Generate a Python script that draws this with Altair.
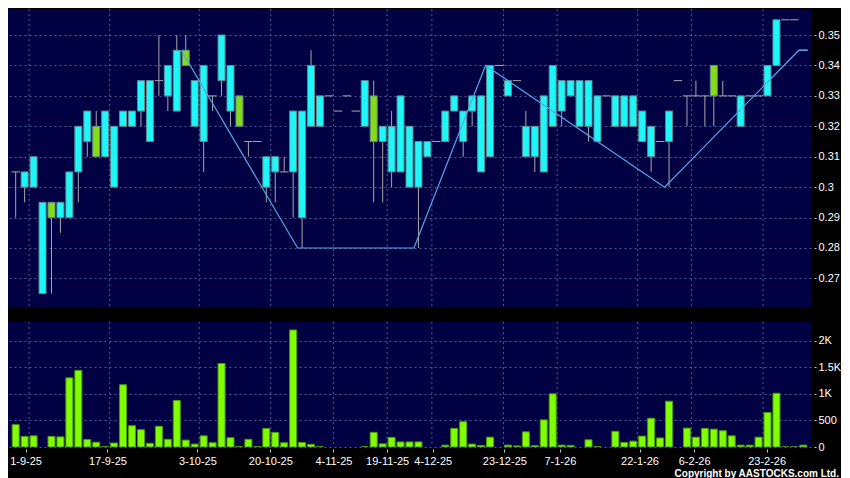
import json
import altair as alt
import pandas as pd

# ---------------- data ----------------
slot = list(range(89))
open_ = [0.305, 0.300, 0.300, 0.265, 0.295, 0.290, 0.290, 0.305, 0.315, 0.320,
         0.310, 0.300, 0.320, 0.320, 0.325, 0.315, 0.335, 0.330, 0.325, 0.345,
         0.320, 0.315, 0.330, 0.335, 0.325, 0.330, 0.315, 0.315, 0.300, 0.305,
         0.305, 0.305, 0.290, 0.320, 0.320, 0.330, 0.325, 0.330, 0.325, 0.320,
         0.330, 0.315, 0.305, 0.305, 0.300, 0.300, 0.310, 0.315, 0.315, 0.325,
         0.315, 0.325, 0.305, 0.310, 0.340, 0.330, 0.335, 0.310, 0.310, 0.305,
         0.320, 0.325, 0.330, 0.320, 0.320, 0.315, 0.330, 0.320, 0.320, 0.320,
         0.315, 0.310, 0.315, 0.315, 0.335, 0.330, 0.330, 0.330, 0.340, 0.330,
         0.330, 0.320, 0.330, 0.330, 0.330, 0.340, 0.355, 0.355, 0.345]
high = [0.305, 0.305, 0.310, 0.295, 0.295, 0.295, 0.305, 0.320, 0.325, 0.325,
        0.325, 0.320, 0.325, 0.325, 0.335, 0.335, 0.350, 0.340, 0.350, 0.350,
        0.335, 0.340, 0.330, 0.350, 0.340, 0.330, 0.315, 0.315, 0.310, 0.310,
        0.310, 0.325, 0.325, 0.345, 0.330, 0.330, 0.325, 0.330, 0.325, 0.335,
        0.335, 0.320, 0.325, 0.330, 0.320, 0.315, 0.315, 0.315, 0.325, 0.330,
        0.325, 0.330, 0.330, 0.340, 0.340, 0.335, 0.335, 0.325, 0.320, 0.330,
        0.340, 0.335, 0.335, 0.335, 0.335, 0.330, 0.330, 0.330, 0.330, 0.330,
        0.325, 0.320, 0.315, 0.325, 0.335, 0.330, 0.335, 0.330, 0.340, 0.335,
        0.330, 0.330, 0.330, 0.330, 0.340, 0.355, 0.355, 0.355, 0.345]
low = [0.290, 0.295, 0.300, 0.265, 0.265, 0.285, 0.290, 0.295, 0.310, 0.310,
       0.310, 0.300, 0.320, 0.320, 0.320, 0.315, 0.330, 0.325, 0.325, 0.340,
       0.320, 0.305, 0.325, 0.330, 0.320, 0.320, 0.310, 0.315, 0.295, 0.295,
       0.305, 0.290, 0.280, 0.320, 0.320, 0.330, 0.325, 0.330, 0.325, 0.320,
       0.295, 0.295, 0.300, 0.305, 0.300, 0.280, 0.310, 0.315, 0.315, 0.325,
       0.310, 0.320, 0.305, 0.310, 0.340, 0.330, 0.335, 0.310, 0.305, 0.305,
       0.320, 0.320, 0.330, 0.320, 0.315, 0.315, 0.330, 0.320, 0.320, 0.320,
       0.315, 0.305, 0.315, 0.300, 0.335, 0.320, 0.330, 0.320, 0.320, 0.330,
       0.330, 0.320, 0.330, 0.330, 0.330, 0.340, 0.355, 0.355, 0.345]
close = [0.305, 0.305, 0.310, 0.295, 0.290, 0.295, 0.305, 0.320, 0.325, 0.310,
         0.325, 0.320, 0.325, 0.325, 0.335, 0.335, 0.335, 0.340, 0.345, 0.340,
         0.335, 0.340, 0.330, 0.350, 0.340, 0.320, 0.315, 0.315, 0.310, 0.310,
         0.305, 0.325, 0.325, 0.340, 0.330, 0.330, 0.325, 0.330, 0.325, 0.335,
         0.315, 0.320, 0.320, 0.330, 0.320, 0.315, 0.315, 0.315, 0.325, 0.330,
         0.325, 0.330, 0.330, 0.340, 0.340, 0.335, 0.335, 0.320, 0.320, 0.330,
         0.340, 0.335, 0.335, 0.335, 0.335, 0.330, 0.330, 0.330, 0.330, 0.330,
         0.325, 0.320, 0.315, 0.325, 0.335, 0.330, 0.330, 0.330, 0.330, 0.330,
         0.330, 0.330, 0.330, 0.330, 0.340, 0.355, 0.355, 0.355, 0.345]
volume = [420, 200, 210, 0, 200, 190, 1300, 1440, 140, 90,
          5, 75, 1170, 400, 325, 70, 390, 145, 875, 130,
          55, 210, 80, 1570, 175, 5, 145, 5, 350, 275,
          80, 2200, 85, 50, 5, 0, 0, 0, 0, 5,
          275, 60, 180, 95, 95, 95, 0, 0, 35, 350,
          475, 55, 30, 185, 0, 35, 20, 285, 25, 510,
          1000, 35, 30, 0, 135, 5, 0, 295, 85, 110,
          205, 540, 170, 860, 0, 355, 185, 350, 335, 305,
          210, 35, 35, 185, 650, 1010, 3, 3, 35]

zig_x = [18.5, 31.5, 44.5, 52.5, 72.5, 87.5, 88.5]
zig_y = [0.345, 0.280, 0.280, 0.340, 0.300, 0.345, 0.345]

tick_pos = [1.1, 10.25, 20.3, 28.45, 35.5, 41.5, 46.6, 54.6, 60.8, 69.7, 75.8, 83.9]
tick_labels = ["1-9-25", "17-9-25", "3-10-25", "20-10-25", "4-11-25", "19-11-25",
               "4-12-25", "23-12-25", "7-1-26", "22-1-26", "6-2-26", "23-2-26"]
grid_pos = [1.5, 10.5, 20.5, 28.5, 35.5, 41.5, 46.5, 54.5, 60.5, 69.5, 75.5, 83.5]
price_ticks = [0.27, 0.28, 0.29, 0.30, 0.31, 0.32, 0.33, 0.34, 0.35]
vol_ticks = [0, 500, 1000, 1500, 2000]
copyright_text = ["Copyright by AASTOCKS.com Ltd."]

# ---------------- styles ----------------
NAVY = "#000042"
GRID = "#4C5A96"
CYAN = "#1EF7F7"
GREEN = "#84DC12"
BODY_STROKE = "#5E8C94"
WICK = "#A8A8A8"
ZIG = "#55A8E6"
VOL = "#80FF00"
VOL_STROKE = "#4E9A06"
FONT = "Liberation Sans"
W = 803

df = pd.DataFrame({"slot": slot, "open": open_, "high": high, "low": low,
                   "close": close, "volume": volume})
df["dir"] = ["up" if c >= o else "down" for o, c in zip(open_, close)]

xs = alt.Scale(domain=[-0.3, 88.3], nice=False, zero=False)
ys = alt.Scale(domain=[0.2606, 0.35855], nice=False, zero=False)
vs = alt.Scale(domain=[0, 2350], nice=False, zero=False)

price_axis = alt.Axis(orient="right", values=price_ticks, format=".2~f", grid=True,
                      title=None, offset=3, tickSize=2, labelPadding=2, domain=False)

x_label_expr = f"{json.dumps(tick_labels)}[indexof({json.dumps(tick_pos)}, datum.value)]"
vol_axis_x = alt.Axis(orient="bottom", values=tick_pos, labelExpr=x_label_expr, grid=False,
                      domain=False, title=None, offset=2, tickSize=3, labelPadding=3,
                      labelFlush=15, labelFlushOffset=11, labelOverlap=False)
vol_axis_y = alt.Axis(orient="right", values=vol_ticks, grid=True, title=None, offset=3,
                      tickSize=2, labelPadding=2, domain=False,
                      labelExpr="datum.value >= 1000 ? format(datum.value / 1000, '~g') + 'K' : format(datum.value, 'd')")

grid_df = pd.DataFrame({"g": grid_pos})

# ---------------- price panel ----------------
vgrid = alt.Chart(grid_df).mark_rule(color=GRID, strokeDash=[2, 3], strokeWidth=1).encode(
    x=alt.X("g:Q", scale=xs, axis=None))

wicks = alt.Chart(df).transform_filter("datum.high > datum.low").mark_rule(
    color=WICK, strokeWidth=1, clip=True).encode(
    x=alt.X("slot:Q", scale=xs, axis=None),
    y=alt.Y("low:Q", scale=ys, axis=price_axis),
    y2="high:Q")

dojis = alt.Chart(df).transform_filter("datum.open == datum.close").transform_calculate(
    xa="datum.slot - 0.47", xb="datum.slot + 0.47").mark_rule(
    color=WICK, strokeWidth=1, clip=True).encode(
    x=alt.X("xa:Q", scale=xs, axis=None), x2="xb:Q",
    y=alt.Y("close:Q", scale=ys, axis=price_axis))

bodies = alt.Chart(df).transform_filter("datum.open != datum.close").mark_bar(
    size=7, stroke=BODY_STROKE, strokeWidth=1, clip=True).encode(
    x=alt.X("slot:Q", scale=xs, axis=None),
    y=alt.Y("open:Q", scale=ys, axis=price_axis), y2="close:Q",
    fill=alt.Fill("dir:N", scale=alt.Scale(domain=["up", "down"], range=[CYAN, GREEN]),
                  legend=None))

zig_df = pd.DataFrame({"zx": zig_x, "zy": zig_y, "k": list(range(len(zig_x)))})
zig = alt.Chart(zig_df).mark_line(color=ZIG, strokeWidth=1.2, clip=True).encode(
    x=alt.X("zx:Q", scale=xs, axis=None),
    y=alt.Y("zy:Q", scale=ys, axis=price_axis),
    order="k:Q")

price = alt.layer(vgrid, wicks, dojis, bodies, zig).properties(width=W, height=298)

# ---------------- volume panel ----------------
vgrid2 = alt.Chart(grid_df).mark_rule(color=GRID, strokeDash=[2, 3], strokeWidth=1).encode(
    x=alt.X("g:Q", scale=xs, axis=vol_axis_x))

vol_bars = alt.Chart(df).transform_filter("datum.volume > 0").mark_bar(
    size=7, fill=VOL, stroke=VOL_STROKE, strokeWidth=1, clip=True).encode(
    x=alt.X("slot:Q", scale=xs, axis=vol_axis_x),
    y=alt.Y("volume:Q", scale=vs, axis=vol_axis_y))

copyright = alt.Chart(pd.DataFrame({"t": copyright_text})).mark_text(
    align="right", baseline="middle", font=FONT, fontSize=10, fontWeight="bold",
    color="#FFFFFF").encode(text="t:N", x=alt.value(831), y=alt.value(152))

vol = alt.layer(vgrid2, vol_bars, copyright).properties(width=W, height=125)

chart = alt.vconcat(price, vol, spacing=13).properties(
    padding={"left": 0, "right": 0, "top": 0, "bottom": 0},
    background="#000000",
).configure_view(fill=NAVY, strokeWidth=0).configure_axis(
    labelFont=FONT, labelFontSize=11, labelColor="#FFFFFF", tickColor="#C8C8C8",
    gridColor=GRID, gridDash=[2, 3], gridWidth=1,
)

chart.save("out.html", embed_options={"renderer": "svg", "actions": False})
